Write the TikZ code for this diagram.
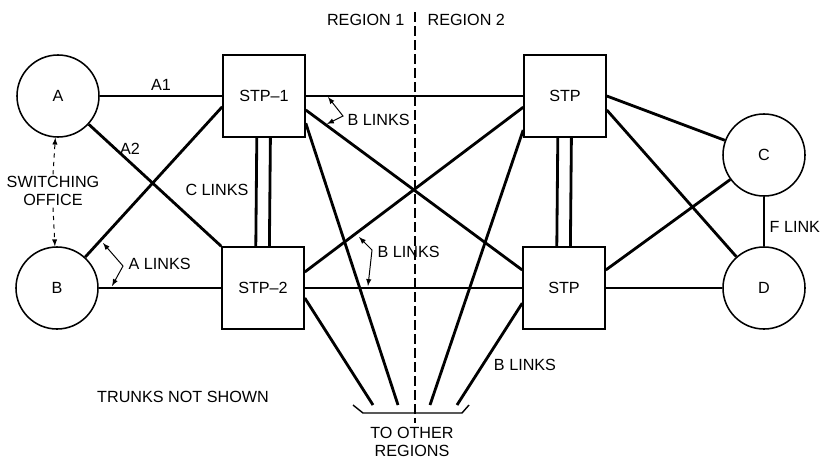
\documentclass[tikz,border=0pt]{standalone}
\usepackage{fontspec}
\setmainfont{Liberation Sans}
\begin{document}
\begin{tikzpicture}[x=0.025cm,y=-0.025cm,font=\fontsize{11.5}{13}\selectfont]
\tikzstyle{so}=[circle, draw, line width=1.1pt, minimum size=2.05cm, inner sep=0pt];
\tikzstyle{stp}=[rectangle, draw, line width=1.1pt, minimum size=2.05cm, inner sep=0pt];
\tikzstyle{lnk}=[line width=2pt];
\tikzstyle{ptr}=[line width=0.7pt, latex-latex];
\tikzstyle{sw}=[line width=0.7pt, dashed, -latex];
\tikzstyle{t}=[inner sep=1pt];
\useasboundingbox (0,0) rectangle (827,460);
\node [so] (v1) at (58,96) {A};
\node [so] (v2) at (57,288) {B};
\node [stp] (v3) at (264,96) {STP--1};
\node [stp] (v4) at (263,288) {STP--2};
\node [stp] (v5) at (565,96) {STP};
\node [stp] (v6) at (564,288) {STP};
\node [so] (v7) at (764,155) {C};
\node [so] (v8) at (764,288) {D};
% region 1 / region 2
\coordinate (r1) at (415,12);
\coordinate (r2) at (415,423);
\draw [line width=0.9pt, dash pattern=on 0.25cm off 0.1cm] (r1) -- (r2);
\node [t, anchor=east] (l1) at (406,20) {REGION 1};
\node [t, anchor=west] (l2) at (426,20) {REGION 2};
% region 1
\draw [lnk] (v1) edge node [t,above=2pt] (l3) {A1} (v3);
\draw [lnk] (v1) edge (v4.north west);
\node [t] (l4) at (130,149) {A2};
\draw [lnk] (v2) edge ([yshift=-0.27cm]v3.west);
\draw [lnk] (v2) edge (v4);
\draw [lnk] ([xshift=-0.18cm]v3.south) edge ([xshift=-0.18cm]v4.north);
\draw [lnk] ([xshift=0.16cm]v3.south) edge ([xshift=0.16cm]v4.north);
\node [t] (l5) at (217,190) {C LINKS};
\node [t, align=center] (l6) at (53,191) {SWITCHING\\OFFICE};
\draw [sw] (l6.north) -- (v1);
\draw [sw] (l6.south) -- (v2);
\coordinate (a0) at (123,266);
\coordinate (a1) at (103,243);
\coordinate (a2) at (112,286);
\draw [ptr] (a1) -- (a0) -- (a2);
\node [t, anchor=west] (l7) at (127,264) {A LINKS};
% between regions
\draw [lnk] (v3) edge (v5);
\draw [lnk] ([yshift=-0.35cm]v3.east) edge ([yshift=0.45cm]v6.west);
\draw [lnk] ([yshift=0.4cm]v4.east) edge ([yshift=-0.28cm]v5.west);
\draw [lnk] (v4) edge (v6);
\coordinate (b0) at (328,97);
\coordinate (b1) at (343,116);
\coordinate (b2) at (327,124);
\draw [ptr] (b0) -- (b1) -- (b2);
\node [t, anchor=west] (l8) at (346,120) {B LINKS};
\coordinate (c0) at (359,237);
\coordinate (c1) at (372,250);
\coordinate (c2) at (368,286);
\draw [ptr] (c0) -- (c1) -- (c2);
\node [t, anchor=west] (l9) at (376,252) {B LINKS};
% to other regions
\coordinate (t1) at (373,405);
\coordinate (t2) at (398,405);
\coordinate (t3) at (430,405);
\coordinate (t4) at (457,405);
\draw [lnk] ([yshift=-0.25cm]v4.east) edge (t1);
\draw [lnk] ([yshift=-0.68cm]v3.east) edge (t2);
\draw [lnk] ([yshift=-0.85cm]v5.west) edge (t3);
\draw [lnk] ([yshift=-0.38cm]v6.west) edge (t4);
\coordinate (k1) at (353,405);
\coordinate (k2) at (363,413);
\coordinate (k3) at (462,413);
\coordinate (k4) at (469,405);
\draw [line width=1pt] (k1) -- (k2) -- (k3) -- (k4);
\node [t, align=center, font=\fontsize{11.5}{12.5}\selectfont] (l10) at (412,442) {TO OTHER\\REGIONS};
\node [t] (l11) at (525,365) {B LINKS};
\node [t] (l12) at (183,397) {TRUNKS NOT SHOWN};
% region 2
\draw [lnk] ([xshift=-0.18cm]v5.south) edge ([xshift=-0.18cm]v6.north);
\draw [lnk] ([xshift=0.16cm]v5.south) edge ([xshift=0.16cm]v6.north);
\draw [lnk] (v5.east) edge (v7);
\draw [lnk] ([yshift=-0.35cm]v5.east) edge (v8);
\draw [lnk] ([yshift=0.45cm]v6.east) edge (v7);
\draw [lnk] (v6) edge (v8);
\draw [lnk] (v7) edge (v8);
\node [t, anchor=west] (l13) at (768,227) {F LINK};
\end{tikzpicture}
\end{document}
